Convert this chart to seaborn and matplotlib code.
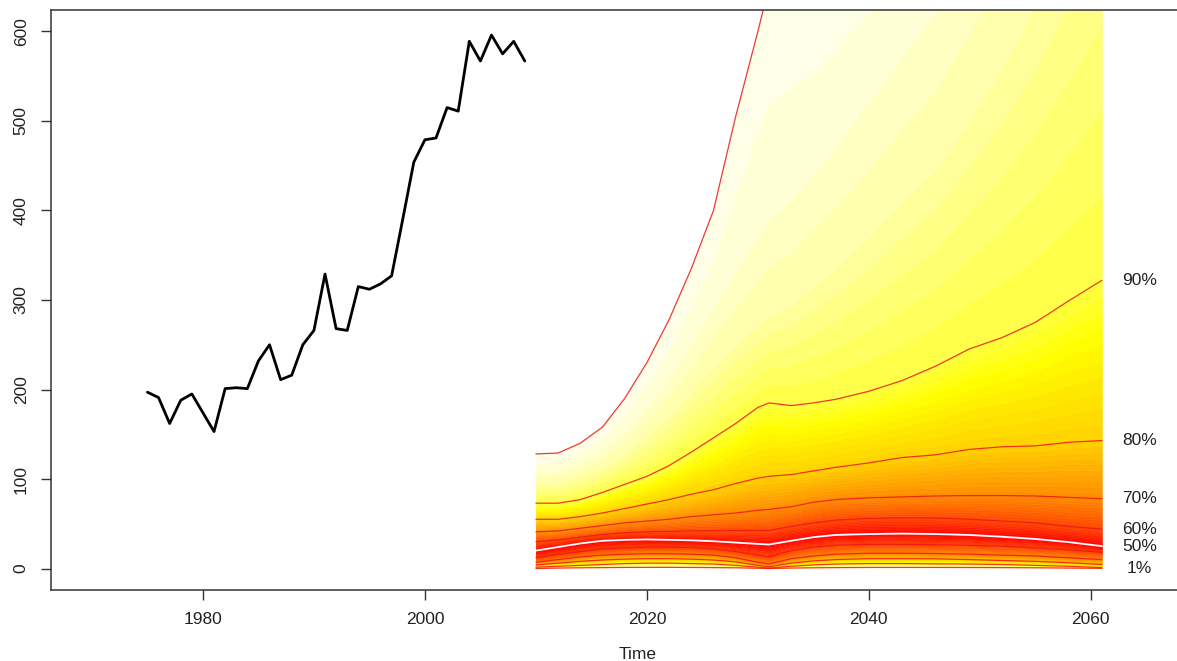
import colorsys
import numpy as np
import matplotlib
matplotlib.use("Agg")
import matplotlib.pyplot as plt
import seaborn as sns

# observed series
hist_years = list(range(1975, 2010))
hist_values = [197, 191, 162, 188, 195, 174, 153, 201, 202, 201, 232, 250, 211, 216,
               250, 266, 329, 268, 266, 315, 312, 318, 327, 390, 454, 479, 481, 515,
               511, 589, 567, 596, 575, 589, 567]

# fan quantiles
fan_years = [2010, 2012, 2014, 2016, 2018, 2020, 2022, 2024, 2026, 2028, 2030, 2031,
             2033, 2035, 2037, 2040, 2043, 2046, 2049, 2052, 2055, 2058, 2061]
q1 = [0, 0.5, 0.8, 1, 1.2, 1.3, 1.3, 1.2, 1, 0.8, 0.3, 0, 0.5, 0.8, 1, 1.2, 1.2, 1.2,
      1.1, 1, 0.8, 0.5, 0.2]
q10 = [1.5, 2.5, 3.5, 4.5, 5.5, 6, 6, 5.5, 5, 3.5, 1.5, 0.5, 2.5, 4, 5, 5.5, 5.5, 5.2,
       5, 4.5, 3.5, 2.5, 1]
q20 = [4, 6, 8, 9.5, 10.5, 11, 11, 10.5, 9.5, 7.5, 3.5, 2, 6, 8.5, 10, 11, 11, 10.8,
       10, 9, 8, 6.5, 4.5]
q30 = [7, 10, 13, 15, 16, 16.5, 16.5, 16, 15, 12, 7, 5, 11, 14, 16, 17, 17, 16.7, 16,
       15, 14, 12, 10]
q40 = [12, 16, 19, 22, 23, 24, 24, 23.5, 22, 19, 15, 13, 20, 24, 26, 27, 27, 26.5, 26,
       25, 23, 21, 18]
q50 = [20, 24, 28, 31, 32, 32.5, 32, 31.5, 30.5, 29, 27.5, 26.8, 31, 35, 37.5, 38.5, 39,
       38.5, 37.5, 35.5, 33, 29.5, 25]
q60 = [30, 32, 35, 38, 40, 41, 41.5, 42, 42, 42.5, 42.5, 42.5, 47, 51, 54, 56, 56.6,
       56.5, 55, 53, 51, 47, 44]
q70 = [41, 42, 45, 48, 51, 53, 55, 58, 60, 62, 65, 66, 69, 74, 77, 79, 80, 81, 81.5,
       81.5, 81, 79.5, 78]
q80 = [55, 55, 58, 62, 67, 72, 77, 83, 88, 95, 101, 103, 105, 109, 113, 118, 124, 127,
       133, 136, 137, 141, 143]
q90 = [73, 73, 77, 85, 94, 103, 115, 130, 146, 162, 180, 185, 182, 185, 189, 198, 210,
       226, 245, 258, 275, 299, 322]
q95 = [95, 96, 103, 113, 128, 148, 170, 198, 225, 250, 272, 282, 295, 315, 335, 370,
       410, 445, 500, 560, 630, 710, 800]
q97 = [108, 109, 118, 132, 152, 178, 210, 250, 290, 330, 370, 389, 410, 440, 470, 520,
       570, 620, 690, 770, 850, 930, 1000]
q99 = [128, 129, 140, 158, 190, 230, 278, 335, 400, 505, 600, 650, 660, 670, 690, 720,
       760, 800, 860, 930, 1010, 1100, 1200]

levels = [1, 10, 20, 30, 40, 50, 60, 70, 80, 90, 95, 97, 99]
quants = np.array([q1, q10, q20, q30, q40, q50, q60, q70, q80, q90, q95, q97, q99])
line_levels = [1, 10, 20, 30, 40, 50, 60, 70, 80, 90, 99]
label_levels = [90, 80, 70, 60, 50, 1]


def heat(p):
    d = min(abs(p - 50) / 49.0, 1.0)
    if d < 0.75:
        h, s = d / 0.75 / 6.0, 1.0
    else:
        h, s = 1 / 6.0, 1.0 - (d - 0.75) / 0.25 * 0.95
    return colorsys.hsv_to_rgb(h, s, 1.0)


sns.set_style("white")
plt.rcParams["font.family"] = ["Liberation Sans", "DejaVu Sans"]

fig = plt.figure(figsize=(11.77, 6.61), dpi=100)
ax = fig.add_axes([51 / 1177, 71 / 661, 1173 / 1177, 580 / 661])

# fan bands, one per percentile like the original fan chart
steps = np.arange(1, 100)
bounds = np.array([[np.interp(p, levels, quants[:, i]) for i in range(len(fan_years))]
                   for p in steps])
for k in range(len(steps) - 1):
    c = heat((steps[k] + steps[k + 1]) / 2)
    ax.fill_between(fan_years, bounds[k], bounds[k + 1], color=c, lw=0.4, ec=c, zorder=1)

# percentile lines
for lv in line_levels:
    vals = quants[levels.index(lv)]
    if lv == 50:
        sns.lineplot(x=fan_years, y=vals, ax=ax, color="white", lw=1.3, zorder=3)
    else:
        sns.lineplot(x=fan_years, y=vals, ax=ax, color="#EE1515", lw=0.9, alpha=0.85, zorder=2)

for lv in label_levels:
    ax.text(2064.4, quants[levels.index(lv)][-1], f"{lv}%", ha="center", va="center",
            fontsize=12.5, color="#222222", clip_on=False)

# observed line
sns.lineplot(x=hist_years, y=hist_values, ax=ax, color="black", lw=2, zorder=4)

ax.set_xlim(1966.31, 2072)
ax.set_ylim(-24, 624)
ax.set_xticks([1980, 2000, 2020, 2040, 2060])
ax.set_yticks([0, 100, 200, 300, 400, 500, 600])
ax.set_yticklabels(["0", "100", "200", "300", "400", "500", "600"], rotation=90, va="center")
ax.tick_params(axis="both", which="major", length=7, width=1, color="#333333",
               labelsize=12.5, labelcolor="#222222", bottom=True, left=True, pad=9)
ax.set_xlabel("Time", fontsize=12.5, color="#222222", labelpad=14)
for sp in ax.spines.values():
    sp.set_color("#333333")
    sp.set_linewidth(1.1)

fig.savefig("out.png", dpi=100)
